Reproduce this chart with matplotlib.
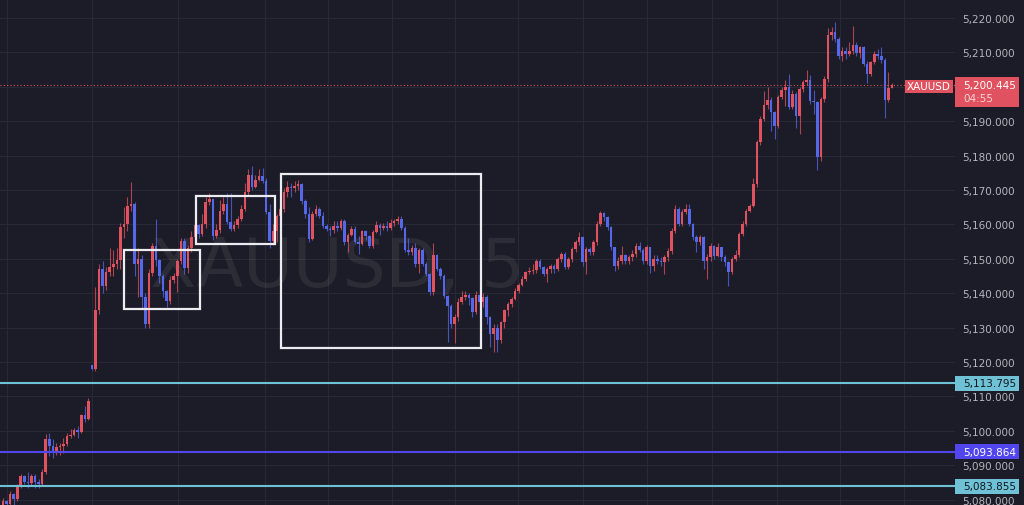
import matplotlib

matplotlib.use("Agg")
import matplotlib.pyplot as plt
import matplotlib.transforms as mtransforms
from matplotlib.patches import Rectangle
from matplotlib.ticker import FuncFormatter
import numpy as np

# ---- data (5 min XAUUSD candles) ----
FIRST_OPEN = 5078.4
GAP_OPENS = {25: 5119.0}

CLOSES = [
    5079.6, 5078.6, 5081.6, 5080.2, 5083.9, 5086.9, 5085.1, 5084.7, 5086.9, 5085.1,
    5084.5, 5088.0, 5097.6, 5095.6, 5093.8, 5095.3, 5095.6, 5096.2, 5098.5, 5098.8,
    5100.2, 5099.7, 5104.6, 5103.4, 5108.7, 5118.0, 5135.1, 5147.0, 5142.1, 5146.2,
    5147.5, 5148.5, 5149.6, 5159.2, 5160.0, 5165.4, 5166.0, 5148.5, 5150.0, 5139.0,
    5131.0, 5146.0, 5153.7, 5149.6, 5145.0, 5140.6, 5137.7, 5143.8, 5145.0, 5149.4,
    5155.2, 5147.3, 5153.0, 5156.4, 5159.7, 5157.2, 5160.0, 5166.5, 5167.5, 5156.6,
    5158.5, 5164.0, 5166.0, 5160.7, 5158.7, 5159.9, 5161.7, 5164.5, 5169.4, 5174.4,
    5171.0, 5173.0, 5174.0, 5172.7, 5163.6, 5155.2, 5158.0, 5162.4, 5164.5, 5169.4,
    5171.0, 5170.5, 5171.2, 5171.8, 5166.8, 5163.0, 5155.8, 5163.0, 5164.5, 5162.5,
    5159.5, 5158.7, 5158.3, 5159.6, 5159.0, 5161.0, 5154.9, 5157.0, 5158.7, 5154.9,
    5154.2, 5158.1, 5156.5, 5153.7, 5157.8, 5159.9, 5159.0, 5159.5, 5158.9, 5160.5,
    5160.9, 5161.7, 5159.0, 5152.6, 5152.0, 5153.0, 5148.5, 5152.5, 5148.5, 5145.6,
    5140.4, 5151.0, 5147.0, 5145.0, 5139.2, 5136.3, 5131.0, 5133.0, 5137.5, 5139.0,
    5139.5, 5138.5, 5134.5, 5139.5, 5137.5, 5139.0, 5133.0, 5128.0, 5130.0, 5126.5,
    5131.5, 5135.0, 5137.0, 5138.3, 5140.7, 5142.5, 5144.1, 5146.1, 5146.4, 5146.6,
    5149.5, 5147.5, 5145.6, 5147.0, 5148.0, 5147.0, 5149.9, 5151.4, 5147.7, 5149.9,
    5152.8, 5154.8, 5156.2, 5149.0, 5152.8, 5151.9, 5154.8, 5160.1, 5163.2, 5162.1,
    5159.1, 5153.3, 5148.0, 5149.5, 5151.0, 5149.5, 5150.5, 5151.5, 5153.8, 5152.6,
    5149.5, 5153.3, 5148.0, 5150.0, 5149.5, 5149.0, 5150.4, 5152.4, 5158.2, 5164.5,
    5160.1, 5163.5, 5164.5, 5160.1, 5156.2, 5154.8, 5156.2, 5149.5, 5150.4, 5153.8,
    5150.9, 5153.3, 5150.4, 5149.0, 5146.1, 5150.0, 5151.0, 5157.2, 5160.1, 5164.0,
    5165.4, 5171.7, 5183.9, 5190.6, 5194.8, 5196.2, 5192.6, 5188.7, 5197.0, 5199.1,
    5199.9, 5194.0, 5197.9, 5191.6, 5199.4, 5201.3, 5202.0, 5195.8, 5195.5, 5179.7,
    5196.5, 5202.3, 5215.2, 5215.8, 5213.9, 5209.0, 5210.5, 5209.5, 5210.5, 5212.2,
    5209.7, 5211.5, 5206.6, 5203.7, 5207.1, 5209.5, 5209.0, 5207.8, 5196.2, 5199.7,
    5200.445,
]

HIGHS = [
    5080.5, 5080.0, 5082.5, 5082.0, 5084.5, 5087.5, 5087.2, 5088.0, 5087.5, 5087.5,
    5086.0, 5089.0, 5099.0, 5099.4, 5097.6, 5096.5, 5096.5, 5098.0, 5099.5, 5100.5,
    5100.8, 5101.5, 5105.0, 5107.2, 5109.5, 5119.2, 5141.8, 5148.5, 5149.3, 5147.5,
    5153.0, 5152.5, 5153.0, 5160.5, 5165.0, 5168.0, 5172.3, 5166.5, 5153.0, 5151.0,
    5140.0, 5147.0, 5154.5, 5161.6, 5150.0, 5145.6, 5141.0, 5145.0, 5146.0, 5150.0,
    5156.0, 5156.0, 5154.0, 5158.0, 5160.5, 5160.0, 5163.0, 5168.0, 5169.0, 5167.5,
    5160.0, 5167.0, 5168.0, 5169.0, 5169.0, 5161.0, 5162.5, 5165.5, 5172.0, 5176.0,
    5177.0, 5174.5, 5176.0, 5176.5, 5173.5, 5166.0, 5160.0, 5163.0, 5166.0, 5170.5,
    5172.5, 5172.0, 5172.5, 5173.0, 5172.0, 5167.5, 5165.0, 5164.0, 5165.5, 5165.0,
    5163.5, 5160.0, 5159.5, 5161.0, 5161.0, 5161.5, 5161.5, 5157.5, 5159.5, 5159.5,
    5156.5, 5158.5, 5158.5, 5157.0, 5158.5, 5161.0, 5160.5, 5160.5, 5161.0, 5161.5,
    5161.5, 5162.5, 5162.5, 5159.5, 5156.0, 5154.0, 5154.5, 5153.0, 5153.0, 5149.0,
    5146.0, 5154.5, 5151.5, 5147.5, 5145.5, 5139.5, 5137.0, 5134.0, 5138.5, 5140.5,
    5140.5, 5140.0, 5139.0, 5140.5, 5140.5, 5140.0, 5139.5, 5133.5, 5131.0, 5131.0,
    5132.0, 5135.5, 5137.5, 5139.0, 5141.5, 5143.0, 5145.0, 5146.5, 5147.5, 5148.5,
    5150.0, 5150.0, 5148.0, 5147.5, 5148.5, 5148.5, 5150.5, 5152.0, 5152.0, 5150.5,
    5153.5, 5155.5, 5157.7, 5156.5, 5153.5, 5153.5, 5155.5, 5161.0, 5164.0, 5163.5,
    5162.5, 5159.5, 5153.5, 5150.5, 5153.8, 5151.5, 5151.0, 5152.5, 5154.5, 5155.0,
    5153.0, 5154.0, 5153.5, 5151.0, 5151.0, 5150.5, 5151.0, 5153.0, 5159.0, 5165.5,
    5165.0, 5164.5, 5166.0, 5166.0, 5160.5, 5157.0, 5157.0, 5156.5, 5151.5, 5154.5,
    5154.0, 5154.5, 5153.5, 5151.0, 5149.5, 5150.5, 5152.5, 5157.8, 5161.0, 5164.5,
    5166.0, 5173.5, 5184.5, 5191.5, 5198.9, 5200.0, 5197.0, 5193.0, 5197.5, 5199.8,
    5202.0, 5203.6, 5199.0, 5198.5, 5200.0, 5202.0, 5205.0, 5203.5, 5199.0, 5196.0,
    5197.0, 5203.0, 5217.0, 5217.5, 5218.7, 5214.5, 5211.5, 5211.5, 5213.0, 5217.8,
    5213.0, 5212.0, 5212.0, 5207.5, 5207.5, 5210.5, 5211.0, 5211.5, 5208.5, 5204.2,
    5201.0,
]

LOWS = [
    5077.5, 5077.0, 5078.0, 5078.0, 5079.5, 5083.5, 5084.5, 5083.5, 5084.0, 5083.5,
    5083.5, 5084.0, 5087.5, 5092.6, 5092.0, 5093.0, 5093.0, 5093.5, 5095.5, 5098.0,
    5098.5, 5098.0, 5099.5, 5102.5, 5103.0, 5117.8, 5117.5, 5134.0, 5140.0, 5141.0,
    5145.0, 5145.0, 5147.0, 5147.0, 5156.0, 5158.0, 5164.0, 5145.0, 5139.0, 5135.5,
    5130.0, 5129.9, 5145.0, 5148.0, 5143.0, 5139.0, 5136.0, 5137.0, 5143.0, 5140.4,
    5148.5, 5145.5, 5146.0, 5152.0, 5155.5, 5156.0, 5156.5, 5159.0, 5165.5, 5155.5,
    5156.0, 5157.5, 5163.0, 5160.0, 5158.0, 5158.0, 5159.0, 5161.0, 5164.0, 5168.5,
    5170.0, 5170.5, 5172.5, 5172.0, 5163.0, 5153.0, 5154.0, 5155.0, 5161.0, 5163.5,
    5168.0, 5168.0, 5169.5, 5170.0, 5166.0, 5162.0, 5155.0, 5155.5, 5162.5, 5162.0,
    5159.0, 5158.0, 5156.5, 5157.5, 5158.0, 5158.5, 5154.0, 5152.0, 5156.5, 5154.5,
    5151.5, 5154.0, 5155.5, 5153.0, 5153.0, 5157.5, 5157.0, 5158.5, 5158.0, 5158.5,
    5159.5, 5160.0, 5158.5, 5152.0, 5151.0, 5151.0, 5147.5, 5146.0, 5148.0, 5145.0,
    5139.5, 5139.5, 5146.5, 5144.0, 5138.5, 5125.8, 5130.0, 5125.5, 5132.0, 5137.0,
    5138.0, 5136.5, 5133.0, 5134.0, 5137.0, 5136.0, 5131.0, 5124.5, 5123.0, 5123.0,
    5125.5, 5130.0, 5133.5, 5136.0, 5138.0, 5140.0, 5142.0, 5143.5, 5145.5, 5145.5,
    5146.0, 5147.0, 5145.0, 5143.2, 5146.0, 5146.0, 5146.5, 5149.0, 5147.0, 5147.0,
    5149.0, 5152.0, 5154.0, 5148.0, 5145.6, 5151.0, 5151.0, 5154.0, 5159.5, 5161.0,
    5158.5, 5152.5, 5146.5, 5147.0, 5148.5, 5148.5, 5148.5, 5149.5, 5150.5, 5152.0,
    5148.5, 5148.5, 5146.0, 5146.5, 5148.5, 5148.0, 5145.5, 5149.5, 5151.5, 5157.5,
    5159.5, 5159.5, 5163.0, 5159.5, 5155.5, 5152.0, 5154.0, 5147.0, 5144.1, 5149.5,
    5150.0, 5150.5, 5149.5, 5148.0, 5142.0, 5145.5, 5149.5, 5150.5, 5156.5, 5159.5,
    5163.5, 5165.0, 5171.0, 5183.0, 5190.0, 5193.5, 5187.2, 5184.8, 5188.0, 5196.5,
    5194.5, 5193.5, 5193.5, 5188.0, 5186.3, 5198.5, 5200.5, 5195.0, 5192.0, 5175.8,
    5178.5, 5195.5, 5201.5, 5213.5, 5213.0, 5208.0, 5207.5, 5208.0, 5209.0, 5209.5,
    5209.0, 5208.5, 5206.0, 5201.0, 5203.0, 5206.5, 5208.0, 5207.0, 5191.0, 5195.5,
    5199.8,
]

PRICE_TICKS = [5080, 5090, 5100, 5110, 5120, 5130, 5140, 5150, 5160, 5170,
               5180, 5190, 5200, 5210, 5220]
HIDDEN_TICKS = [5200]   # covered by the last-price tag
TIME_GRID = [1.1, 25.0, 49.2, 73.7, 91.4, 109.4, 127.1, 144.8, 163.1, 181.1,
             199.4, 217.7, 235.4, 253.4]

LEVEL_PRICES = [5113.795, 5093.864, 5083.855]
LEVEL_COLORS = ["#6fc2d5", "#5146ee", "#6fc2d5"]
LEVEL_TEXT_COLORS = ["#131722", "#ffffff", "#131722"]

# hand-drawn rectangles: candle index span / price span
ZONE_X0 = [34.1, 54.2, 78.1]
ZONE_X1 = [55.4, 76.4, 134.4]
ZONE_LOW = [5135.4, 5154.3, 5124.0]
ZONE_HIGH = [5152.6, 5168.2, 5174.65]

SYMBOL = "XAUUSD"
WATERMARK = "XAUUSD, 5"
LAST_PRICE = 5200.445
COUNTDOWN = "04:55"

BG = "#1b1c27"
GRID = "#272936"
UP = "#e0525f"
DOWN = "#5668ea"
AXIS_TEXT = "#b2b5be"

W, H = 1024, 506
PLOT_W = 955           # pixel width of the candle pane
STEP = 3.556           # pixels per candle
PX_PER_PRICE = 3.44
TOP_PRICE = 5220 + 19 / PX_PER_PRICE


def price_label(v, _pos):
    if any(abs(v - h) < 1e-6 for h in HIDDEN_TICKS):
        return ""
    return f"{v:,.3f}"


def main() -> None:
    fig = plt.figure(figsize=(W / 100, H / 100), dpi=100, facecolor=BG)
    ax = fig.add_axes([0, 0, PLOT_W / W, 1])
    ax.set_facecolor(BG)

    closes = np.array(CLOSES)
    opens = np.concatenate([[FIRST_OPEN], closes[:-1]])
    for i, v in GAP_OPENS.items():
        opens[i] = v
    idx = np.arange(len(closes))
    up = closes >= opens
    colors = np.where(up, UP, DOWN)
    body_lo = np.minimum(opens, closes)
    body_h = np.maximum(np.abs(closes - opens), 0.35)
    highs = np.maximum(np.array(HIGHS), np.maximum(opens, closes))
    lows = np.minimum(np.array(LOWS), body_lo)

    ax.vlines(idx, lows, highs, colors=colors, linewidth=0.8, alpha=0.75, zorder=3)
    ax.bar(idx, body_h, bottom=body_lo, width=0.72, color=colors, linewidth=0, zorder=4)

    # axes ranges in pixel-matched units
    ax.set_xlim(-3 / STEP, (PLOT_W - 3) / STEP)
    ax.set_ylim(TOP_PRICE - H / PX_PER_PRICE, TOP_PRICE)

    ax.set_xticks(TIME_GRID)
    ax.set_xticklabels([])
    ax.set_yticks(PRICE_TICKS)
    ax.yaxis.tick_right()
    ax.yaxis.set_major_formatter(FuncFormatter(price_label))
    ax.tick_params(axis="both", length=0)
    ax.tick_params(axis="y", pad=5.5, labelsize=7.5, labelcolor=AXIS_TEXT)
    ax.grid(True, color=GRID, linewidth=0.8)
    ax.set_axisbelow(True)
    for sp in ax.spines.values():
        sp.set_visible(False)

    ax.text(337 / PLOT_W, 1 - 287 / H, WATERMARK, transform=ax.transAxes,
            ha="center", va="baseline", fontsize=49, color="#ffffff", alpha=0.07, zorder=1)

    for x0, x1, lo, hi in zip(ZONE_X0, ZONE_X1, ZONE_LOW, ZONE_HIGH):
        ax.add_patch(Rectangle((x0, lo), x1 - x0, hi - lo, fill=False,
                               edgecolor="#ececf0", linewidth=1.6, zorder=5))

    side = mtransforms.blended_transform_factory(ax.transAxes, ax.transData)
    box_w = 64 / PLOT_W
    box_h = 15 / PX_PER_PRICE
    text_x = 1.0 + 8 / PLOT_W
    for price, col, tcol in zip(LEVEL_PRICES, LEVEL_COLORS, LEVEL_TEXT_COLORS):
        ax.axhline(price, color=col, linewidth=1.5, zorder=6)
        ax.add_patch(Rectangle((1.0, price - box_h / 2), box_w, box_h, transform=side,
                               facecolor=col, edgecolor="none", clip_on=False, zorder=8))
        ax.text(text_x, price, f"{price:,.3f}", transform=side, ha="left",
                va="center", fontsize=7.5, color=tcol, clip_on=False, zorder=9)

    # last price line and labels
    ax.axhline(LAST_PRICE, color=UP, linewidth=0.8, linestyle=(0, (1, 2)), zorder=6)
    top = LAST_PRICE + 8 / PX_PER_PRICE
    bottom = LAST_PRICE - 22 / PX_PER_PRICE
    ax.add_patch(Rectangle((1.0, bottom), box_w, top - bottom, transform=side,
                           facecolor=UP, edgecolor="none", clip_on=False, zorder=8))
    ax.text(text_x, LAST_PRICE, f"{LAST_PRICE:,.3f}", transform=side,
            ha="left", va="center", fontsize=7.5, color="#ffffff", clip_on=False, zorder=9)
    ax.text(text_x, LAST_PRICE - 12.5 / PX_PER_PRICE, COUNTDOWN, transform=side,
            ha="left", va="center", fontsize=7.5, color="#f4d4d7", clip_on=False, zorder=9)

    sym_h = 13 / PX_PER_PRICE
    ax.add_patch(Rectangle((905 / PLOT_W, LAST_PRICE - sym_h / 2 - 0.3), 48 / PLOT_W, sym_h,
                           transform=side, facecolor=UP, edgecolor="none", zorder=8))
    ax.text(929 / PLOT_W, LAST_PRICE - 0.3, SYMBOL, transform=side, ha="center",
            va="center", fontsize=7.5, color="#ffffff", zorder=9)

    fig.savefig("out.png", dpi=100, facecolor=BG)
    plt.close(fig)


if __name__ == "__main__":
    main()
